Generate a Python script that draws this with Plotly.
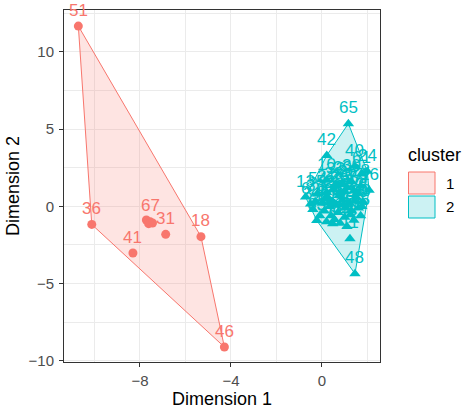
import plotly.graph_objects as go

# ---- data -------------------------------------------------------------
# Cluster 1 (row labels, Dimension 1, Dimension 2)
c1_lab = ["51", "36", "67", "", "", "", "31", "41", "18", "46"]
c1_x = [-10.71, -10.12, -7.55, -7.72, -7.62, -7.45, -6.87, -8.31, -5.32, -4.29]
c1_y = [11.68, -1.17, -1.00, -0.88, -1.12, -1.08, -1.81, -3.02, -1.96, -9.11]

# Cluster 2
c2_lab = ["65", "42", "40", "24", "16", "10", "13", "11", "48", "62", "63",
          "1", "2", "3", "4", "5", "7", "8", "9", "12", "14", "15", "17",
          "19", "20", "21", "23", "25", "26", "27", "28", "29", "30", "32",
          "33", "34", "35", "37", "38", "39", "43", "44", "45", "47", "49",
          "50", "52", "53", "54", "55", "56", "57", "58", "59", "60", "61"]
c2_x = [1.16, 0.21, 1.45, 1.99, 2.07, 0.20, -0.72, 1.23, 1.45, -0.50, -0.23,
        0.00, 0.30, 0.60, 0.90, 1.20, 1.50, 1.80, 0.10, 0.40, 0.70, 1.00,
        1.30, 1.60, 1.75, 0.20, 0.50, 0.80, 1.10, 1.40, 1.70, 0.90, 1.30,
        0.60, -0.30, -0.40, -0.10, 0.20, 0.47, 0.80, 1.10, 1.40, 1.70, 0.35,
        0.75, 1.05, 1.45, 0.15, -0.20, 1.00, 1.25, 0.55, 0.95, 1.60, 0.45,
        1.75]
c2_y = [5.36, 3.30, 2.60, 2.27, 1.04, 1.70, 0.60, -2.09, -4.36, 0.15, -0.91,
        0.20, 0.50, 0.10, 0.40, 0.20, 0.60, 0.30, -0.30, -0.60, -0.40, -0.70,
        -0.30, -0.10, 0.00, 0.90, 1.10, 0.90, 1.20, 1.00, 1.30, 1.50, 1.60,
        1.40, 0.30, -0.20, -0.60, -1.00, -1.12, -1.10, -1.30, -0.90, -0.60,
        0.00, 0.70, -0.10, 0.35, 0.55, 0.80, 0.95, -0.55, -0.85, 0.10, 0.85,
        0.30, 2.10]

clusters = ["1", "2"]
colors = {"1": "#F8766D", "2": "#00BFC4"}
fills = {"1": "rgba(248,118,109,0.2)", "2": "rgba(0,191,196,0.2)"}
symbols = {"1": "circle", "2": "triangle-up"}

FONT = "Liberation Sans, Arial, sans-serif"


def convex_hull(xs, ys):
    pts = sorted(set(zip(xs, ys)))

    def cross(o, a, b):
        return (a[0] - o[0]) * (b[1] - o[1]) - (a[1] - o[1]) * (b[0] - o[0])

    lower, upper = [], []
    for p in pts:
        while len(lower) >= 2 and cross(lower[-2], lower[-1], p) <= 0:
            lower.pop()
        lower.append(p)
    for p in reversed(pts):
        while len(upper) >= 2 and cross(upper[-2], upper[-1], p) <= 0:
            upper.pop()
        upper.append(p)
    hull = lower[:-1] + upper[:-1]
    hull.append(hull[0])
    return [p[0] for p in hull], [p[1] for p in hull]


fig = go.Figure()

data = {"1": (c1_x, c1_y, c1_lab), "2": (c2_x, c2_y, c2_lab)}

# hull polygons
for k in clusters:
    xs, ys, _ = data[k]
    hx, hy = convex_hull(xs, ys)
    fig.add_trace(go.Scatter(x=hx, y=hy, mode="lines", fill="toself",
                             fillcolor=fills[k],
                             line=dict(color=colors[k], width=1),
                             hoverinfo="skip", showlegend=False))

# points
for k in clusters:
    xs, ys, _ = data[k]
    fig.add_trace(go.Scatter(x=xs, y=ys, mode="markers",
                             marker=dict(color=colors[k], symbol=symbols[k],
                                         size=9 if k == "1" else 10,
                                         line=dict(width=0)),
                             showlegend=False))

# point labels
annotations = []
for k in clusters:
    xs, ys, labs = data[k]
    for x, y, t in zip(xs, ys, labs):
        if not t:
            continue
        annotations.append(dict(x=x, y=y, xref="x", yref="y", text=t,
                                showarrow=False, yanchor="middle", yshift=16,
                                font=dict(family=FONT, size=17,
                                          color=colors[k])))

# ---- legend built in pixel space -------------------------------------
PL, PR, PT, PB = 64, 380, 10, 362


def px2paper(px, py):
    return (px - PL) / (PR - PL), (PB - py) / (PB - PT)


legend_rows = [("1", 172, 194), ("2", 196, 218)]
shapes = []
for k, top, bot in legend_rows:
    x0, y0 = px2paper(408.5, bot)
    x1, y1 = px2paper(435, top)
    shapes.append(dict(type="rect", xref="paper", yref="paper",
                       x0=x0, y0=y0, x1=x1, y1=y1,
                       fillcolor=fills[k], line=dict(color=colors[k], width=1)))
    lx, ly = px2paper(444, (top + bot) / 2)
    annotations.append(dict(x=lx, y=ly, xref="paper", yref="paper", text=k,
                            showarrow=False, xanchor="left", yanchor="middle",
                            font=dict(family=FONT, size=15, color="#000000")))

tx, ty = px2paper(406, 155)
annotations.append(dict(x=tx, y=ty, xref="paper", yref="paper", text="cluster",
                        showarrow=False, xanchor="left", yanchor="middle",
                        font=dict(family=FONT, size=18, color="#000000")))

# legend glyphs drawn on an overlay axis whose units are pixels
for k, top, bot in legend_rows:
    fig.add_trace(go.Scatter(x=[421.7], y=[(top + bot) / 2 + (0.5 if k == "2" else 0)],
                             xaxis="x2", yaxis="y2", mode="markers",
                             cliponaxis=False,
                             marker=dict(color=colors[k], symbol=symbols[k],
                                         size=13 if k == "1" else 14,
                                         line=dict(width=0)),
                             showlegend=False, hoverinfo="skip"))

axis_common = dict(
    ticks="outside", ticklen=4, tickwidth=1, tickcolor="#333333",
    tickfont=dict(family=FONT, size=15, color="#4D4D4D"),
    showgrid=True, gridcolor="#EBEBEB", gridwidth=1,
    showline=True, mirror=True, linecolor="#333333", linewidth=1,
    zeroline=False, automargin=False,
)

fig.update_layout(
    width=462, height=410,
    margin=dict(l=PL, r=462 - PR, t=PT, b=410 - PB),
    paper_bgcolor="white", plot_bgcolor="white",
    font=dict(family=FONT),
    showlegend=False,
    xaxis=dict(range=[-11.34, 2.55], tick0=0, dtick=4, ticklabelstandoff=1,
               minor=dict(tick0=0, dtick=2, showgrid=True,
                          gridcolor="#EBEBEB", gridwidth=0.6),
               title=dict(text="Dimension 1", standoff=4,
                          font=dict(family=FONT, size=18, color="#000000")),
               **axis_common),
    yaxis=dict(range=[-10.08, 12.72], tick0=0, dtick=5, ticklabelstandoff=2,
               minor=dict(tick0=0, dtick=2.5, showgrid=True,
                          gridcolor="#EBEBEB", gridwidth=0.6),
               title=dict(text="Dimension 2", standoff=4,
                          font=dict(family=FONT, size=18, color="#000000")),
               **axis_common),
    xaxis2=dict(range=[PL, PR], overlaying="x", visible=False, anchor="y2"),
    yaxis2=dict(range=[PB, PT], overlaying="y", visible=False, anchor="x2"),
    shapes=shapes,
    annotations=annotations,
)

fig.write_html("out.html")
